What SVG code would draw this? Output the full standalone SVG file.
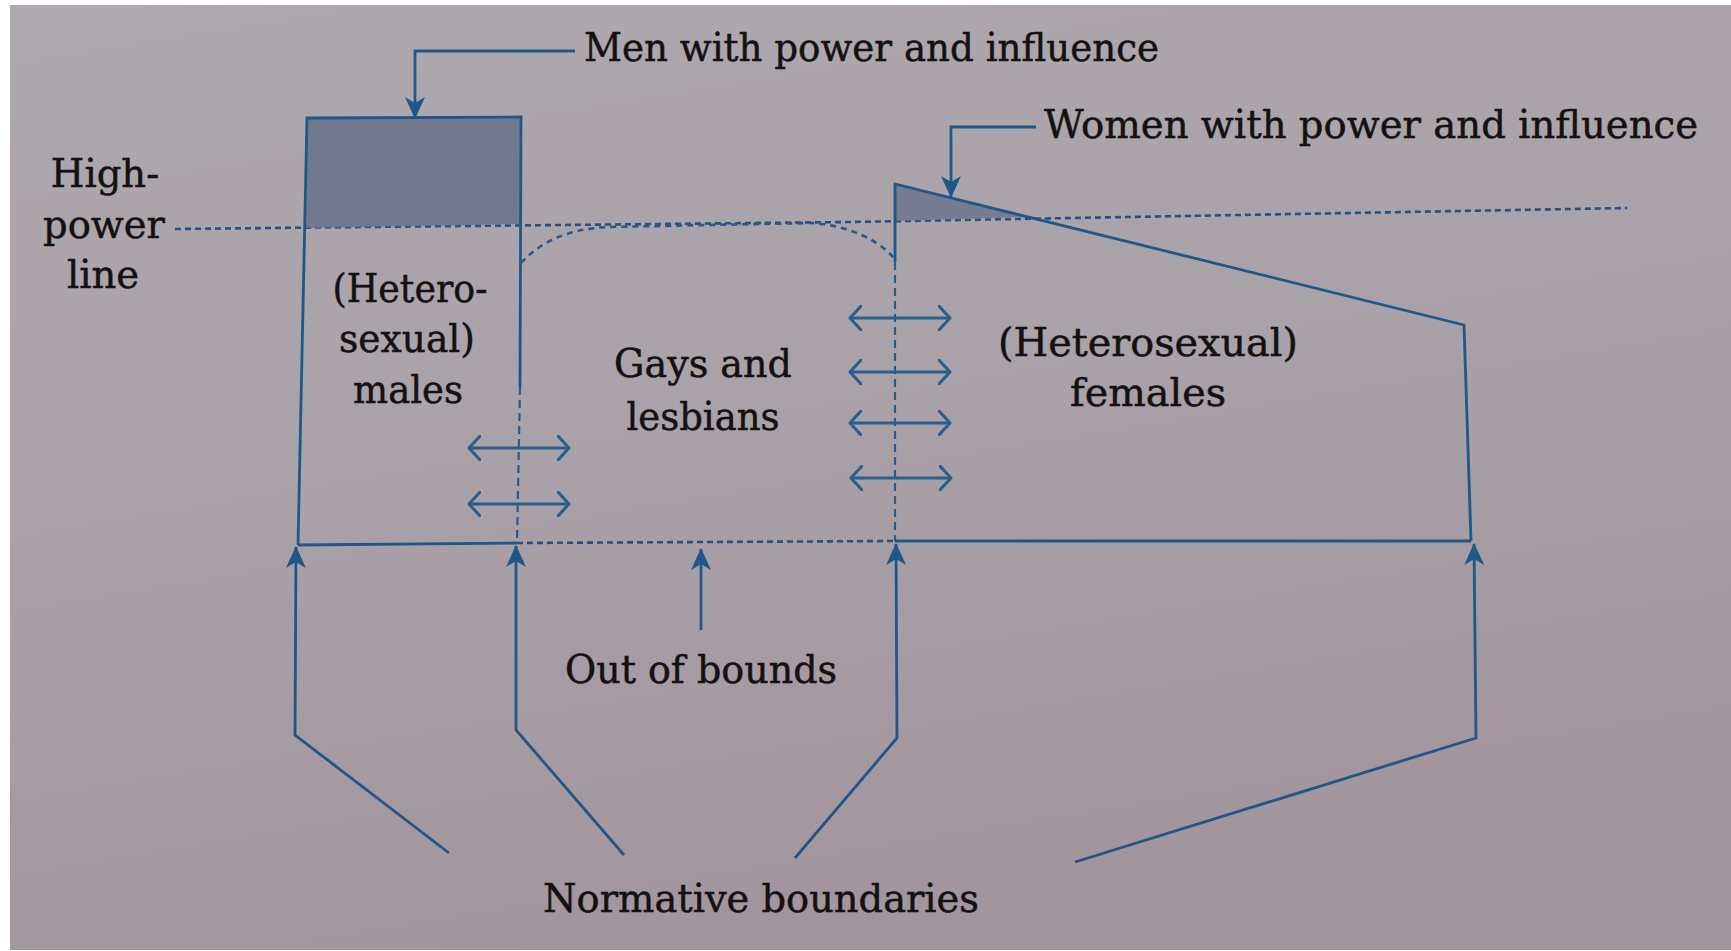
<svg xmlns="http://www.w3.org/2000/svg" width="1731" height="951" viewBox="0 0 1731 951">
  <defs>
    <linearGradient id="paper" x1="0" y1="0" x2="0.3" y2="1">
      <stop offset="0" stop-color="#aea9ae"/>
      <stop offset="0.5" stop-color="#a9a2a8"/>
      <stop offset="1" stop-color="#a3959d"/>
    </linearGradient>
    <marker id="head" viewBox="0 0 22 22" refX="21" refY="11" markerWidth="22" markerHeight="22" markerUnits="userSpaceOnUse" orient="auto">
      <path d="M0,1 L22,11 L0,21 L6,11 Z" fill="#1f5789"/>
    </marker>
    <marker id="chev" viewBox="0 0 14 26" refX="12" refY="13" markerWidth="14" markerHeight="26" markerUnits="userSpaceOnUse" orient="auto-start-reverse">
      <path d="M1,1 L12,13 L1,25" fill="none" stroke="#2a5f8c" stroke-width="3" stroke-linecap="round" stroke-linejoin="round"/>
    </marker>
    <style>
      .ln { fill: none; stroke: #1f5789; stroke-width: 2.8; stroke-linejoin: miter; }
      .dash { fill: none; stroke: #2a5a8a; stroke-width: 2.2; stroke-dasharray: 8 5; }
      .dot { fill: none; stroke: #2a4f86; stroke-width: 2.6; stroke-dasharray: 6 4; }
      .curve { fill: none; stroke: #2a5a8a; stroke-width: 2.6; stroke-dasharray: 6 5; }
      .dbl { fill: none; stroke: #2a5f8c; stroke-width: 3; marker-start: url(#chev); marker-end: url(#chev); }
      .up { fill: none; stroke: #1f5789; stroke-width: 2.8; marker-end: url(#head); }
      .lbl { font-family: "DejaVu Serif", "Liberation Serif", serif; font-size: 38.5px; fill: #141112; stroke: #141112; stroke-width: 0.5; }
      .mid { text-anchor: middle; }
    </style>
  </defs>

  <rect x="0" y="0" width="1731" height="951" fill="#ffffff"/>
  <rect x="10" y="5" width="1721" height="945" fill="url(#paper)"/>

  <!-- High-power line label -->
  <g id="high-power-line">
    <text class="lbl mid" x="105" y="187">High-</text>
    <text class="lbl mid" x="104" y="238">power</text>
    <text class="lbl mid" x="103" y="288">line</text>
    <polyline class="dot" points="175,229 850,222 1627,208"/>
  </g>

  <!-- Heterosexual males -->
  <g id="males">
    <polygon points="307,118 521,117 521,224 306,228" fill="#6c7389" fill-opacity="0.9"/>
    <polyline class="ln" points="298,545 307,118 521,117 520,387"/>
    <line class="dash" x1="520" y1="387" x2="517" y2="543"/>
    <text class="lbl mid" x="410" y="302" textLength="155" lengthAdjust="spacingAndGlyphs">(Hetero-</text>
    <text class="lbl mid" x="407" y="352" textLength="136" lengthAdjust="spacingAndGlyphs">sexual)</text>
    <text class="lbl mid" x="408" y="403" textLength="110" lengthAdjust="spacingAndGlyphs">males</text>
  </g>

  <!-- Gays and lesbians -->
  <g id="gays-lesbians">
    <path class="curve" d="M521,263 C540,242 568,229 607,227 L812,223 C850,226 878,240 894,258"/>
    <text class="lbl mid" x="703" y="377" textLength="178" lengthAdjust="spacingAndGlyphs">Gays and</text>
    <text class="lbl mid" x="703" y="430" textLength="153" lengthAdjust="spacingAndGlyphs">lesbians</text>
  </g>

  <!-- Heterosexual females -->
  <g id="females">
    <polygon points="895,184 1030,217 895,221" fill="#717890" fill-opacity="0.9"/>
    <polyline class="ln" points="895,262 895,184 1464,325 1471,541"/>
    <line class="dash" x1="895" y1="262" x2="895" y2="541"/>
    <text class="lbl mid" x="1148" y="356" textLength="300" lengthAdjust="spacingAndGlyphs">(Heterosexual)</text>
    <text class="lbl mid" x="1148" y="406" textLength="156" lengthAdjust="spacingAndGlyphs">females</text>
  </g>

  <!-- Bottom boundary -->
  <g id="bottom-boundary">
    <line class="ln" x1="298" y1="545" x2="517" y2="543"/>
    <line class="dot" x1="517" y1="543" x2="895" y2="541"/>
    <line class="ln" x1="895" y1="541" x2="1471" y2="541"/>
  </g>

  <g id="out-of-bounds">
    <text class="lbl mid" x="701" y="683" textLength="272" lengthAdjust="spacingAndGlyphs">Out of bounds</text>
  </g>

  <g id="men-power">
    <text class="lbl" x="584" y="61" textLength="575" lengthAdjust="spacingAndGlyphs">Men with power and influence</text>
  </g>

  <g id="women-power">
    <text class="lbl" x="1044" y="138" textLength="654" lengthAdjust="spacingAndGlyphs">Women with power and influence</text>
  </g>

  <g id="normative-boundaries">
    <text class="lbl mid" x="761" y="912" textLength="436" lengthAdjust="spacingAndGlyphs">Normative boundaries</text>
  </g>

  <!-- Connectors -->
  <g id="connectors">
    <polyline class="up" points="575,51 415,51 415,118"/>
    <polyline class="up" points="1036,127 951,127 951,197"/>

    <line class="dbl" x1="469" y1="448" x2="569" y2="448"/>
    <line class="dbl" x1="469" y1="504" x2="569" y2="504"/>
    <line class="dbl" x1="850" y1="318" x2="950" y2="318"/>
    <line class="dbl" x1="850" y1="372" x2="950" y2="372"/>
    <line class="dbl" x1="850" y1="423" x2="950" y2="423"/>
    <line class="dbl" x1="851" y1="478" x2="951" y2="478"/>

    <polyline class="up" points="449,853 295,735 296,547"/>
    <polyline class="up" points="624,855 516,730 516,546"/>
    <polyline class="up" points="701,630 701,549"/>
    <polyline class="up" points="795,858 897,738 896,544"/>
    <polyline class="up" points="1075,862 1476,738 1474,544"/>
  </g>
</svg>
